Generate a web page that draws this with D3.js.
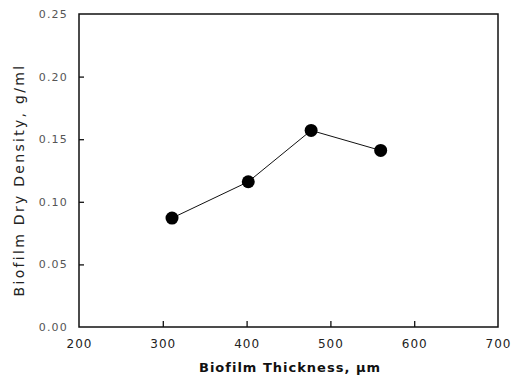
<!DOCTYPE html>
<html>
<head>
<meta charset="utf-8">
<script src="https://cdn.jsdelivr.net/npm/d3@7"></script>
<style>
  body { margin: 0; background: #fff; }
  text { font-family: "DejaVu Sans", sans-serif; }
</style>
</head>
<body>
<div id="chart"></div>
<script>
// datos
const espesor = [311, 402, 477, 560];
const densidad = [0.087, 0.116, 0.157, 0.141];
const ticksX = [200, 300, 400, 500, 600, 700];
const ticksY = [0.00, 0.05, 0.10, 0.15, 0.20, 0.25];

const width = 516, height = 376;
const margin = {left: 79, right: 18, top: 14, bottom: 49};

const svg = d3.select("#chart")
              .append("svg")
              .attr("width", width)
              .attr("height", height);

const xScale = d3.scaleLinear()
                 .domain([200, 700])
                 .range([margin.left, width - margin.right]);

const yScale = d3.scaleLinear()
                 .domain([0, 0.25])
                 .range([height - margin.bottom, margin.top]);

// marco
svg.append("rect")
   .attr("x", xScale(200))
   .attr("y", yScale(0.25))
   .attr("width", xScale(700) - xScale(200))
   .attr("height", yScale(0) - yScale(0.25))
   .attr("fill", "none")
   .attr("stroke", "#111")
   .attr("stroke-width", 1.5);

// eje x
const ejeX = svg.append("g")
   .attr("transform", `translate(0, ${yScale(0)})`)
   .call(d3.axisBottom(xScale).tickValues(ticksX).tickSizeInner(-6).tickSizeOuter(0).tickPadding(12));
ejeX.select(".domain").remove();
ejeX.selectAll(".tick line").attr("stroke", "#111").attr("stroke-width", 1.3)
    .filter(d => d === 200 || d === 700).remove();
ejeX.selectAll(".tick text").attr("font-size", 12).attr("fill", "#222")
    .attr("letter-spacing", 1)
    .attr("font-family", "DejaVu Sans, sans-serif");

// eje y
const ejeY = svg.append("g")
   .attr("transform", `translate(${xScale(200)}, 0)`)
   .call(d3.axisLeft(yScale).tickValues(ticksY).tickFormat(d3.format(".2f"))
         .tickSizeInner(-5).tickSizeOuter(0).tickPadding(11));
ejeY.select(".domain").remove();
ejeY.selectAll(".tick line").attr("stroke", "#111").attr("stroke-width", 1.3)
    .filter(d => d === 0 || d === 0.25).remove();
ejeY.selectAll(".tick text").attr("font-size", 11).attr("fill", "#555")
    .attr("letter-spacing", 1.2)
    .attr("font-family", "DejaVu Sans, sans-serif");

// linea y puntos
const datos = espesor.map((x, i) => ({x: x, y: densidad[i]}));

svg.append("path")
   .datum(datos)
   .attr("fill", "none")
   .attr("stroke", "#111")
   .attr("stroke-width", 1)
   .attr("d", d3.line().x(d => xScale(d.x)).y(d => yScale(d.y)));

svg.selectAll("circle")
   .data(datos)
   .enter()
   .append("circle")
   .attr("cx", d => xScale(d.x))
   .attr("cy", d => yScale(d.y))
   .attr("r", 6.5)
   .attr("fill", "#000");

// titulos
svg.append("text")
   .attr("x", 290)
   .attr("y", 372)
   .attr("text-anchor", "middle")
   .attr("font-size", 13)
   .attr("font-weight", "bold")
   .attr("letter-spacing", 1)
   .attr("fill", "#111")
   .text("Biofilm Thickness, μm");

svg.append("text")
   .attr("transform", "translate(24, 180) rotate(-90)")
   .attr("text-anchor", "middle")
   .attr("font-size", 14)
   .attr("letter-spacing", 2.3)
   .attr("fill", "#222")
   .text("Biofilm Dry Density, g/ml");
</script>
</body>
</html>
